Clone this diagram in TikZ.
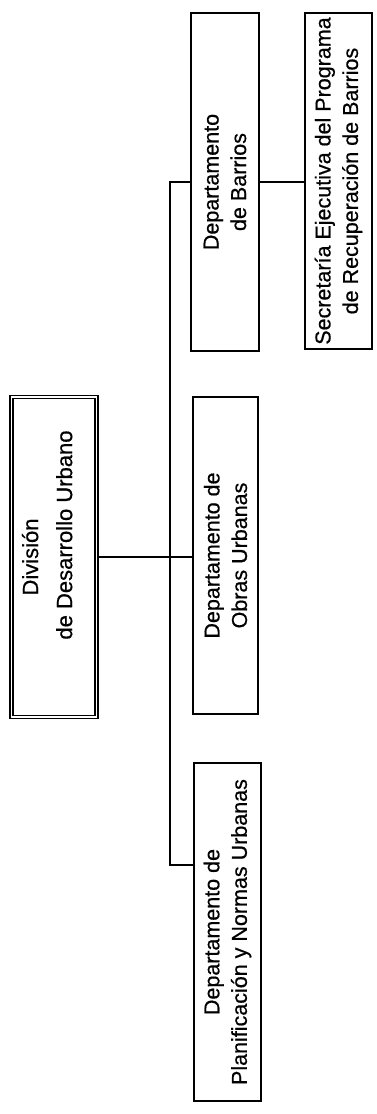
\documentclass[tikz,border=0pt]{standalone}
\usepackage{fontspec}
\setmainfont{Liberation Sans}[BoldFont={Liberation Sans},BoldFeatures={FakeBold=0.6}]
\begin{document}
\begin{tikzpicture}[x=1pt,y=-1pt,
  orgbox/.style={draw=black, line width=1.8pt, rotate=90, align=center, inner sep=0pt,
    font=\fontsize{21.5}{27.5}\selectfont\bfseries},
  divbox/.style={draw=black, line width=1.3pt, double=white, double distance=1.5pt,
    rotate=90, align=center, inner sep=0pt, font=\fontsize{22}{34}\selectfont\bfseries},
  link/.style={draw=black, line width=1.6pt}]
\useasboundingbox (0,0) rectangle (376,1114);

\node[divbox, minimum width=320pt, minimum height=85pt, text depth=14pt] (div) at (54,557)
  {División\\\hspace*{2em}de Desarrollo Urbano};

\node[orgbox, minimum width=338pt, minimum height=68pt] (barrios) at (225,182)
  {Departamento\\de Barrios};
\node[orgbox, minimum width=336pt, minimum height=67pt] (secr) at (338.5,181)
  {Secretaría Ejecutiva del Programa\\de Recuperación de Barrios};
\node[orgbox, minimum width=317pt, minimum height=65pt] (obras) at (225.5,555.5)
  {Departamento de\\Obras Urbanas};
\node[orgbox, minimum width=338pt, minimum height=67pt] (planif) at (227.5,932)
  {Departamento de\\Planificación y Normas Urbanas};

\coordinate (tj) at (170,865);

\draw[link] (div.south) -- (div.south -| obras.north);
\draw[link] (barrios.north) -| (tj) -- (tj -| planif.north);
\draw[link] (barrios.south) -- (barrios.south -| secr.north);
\end{tikzpicture}
\end{document}
